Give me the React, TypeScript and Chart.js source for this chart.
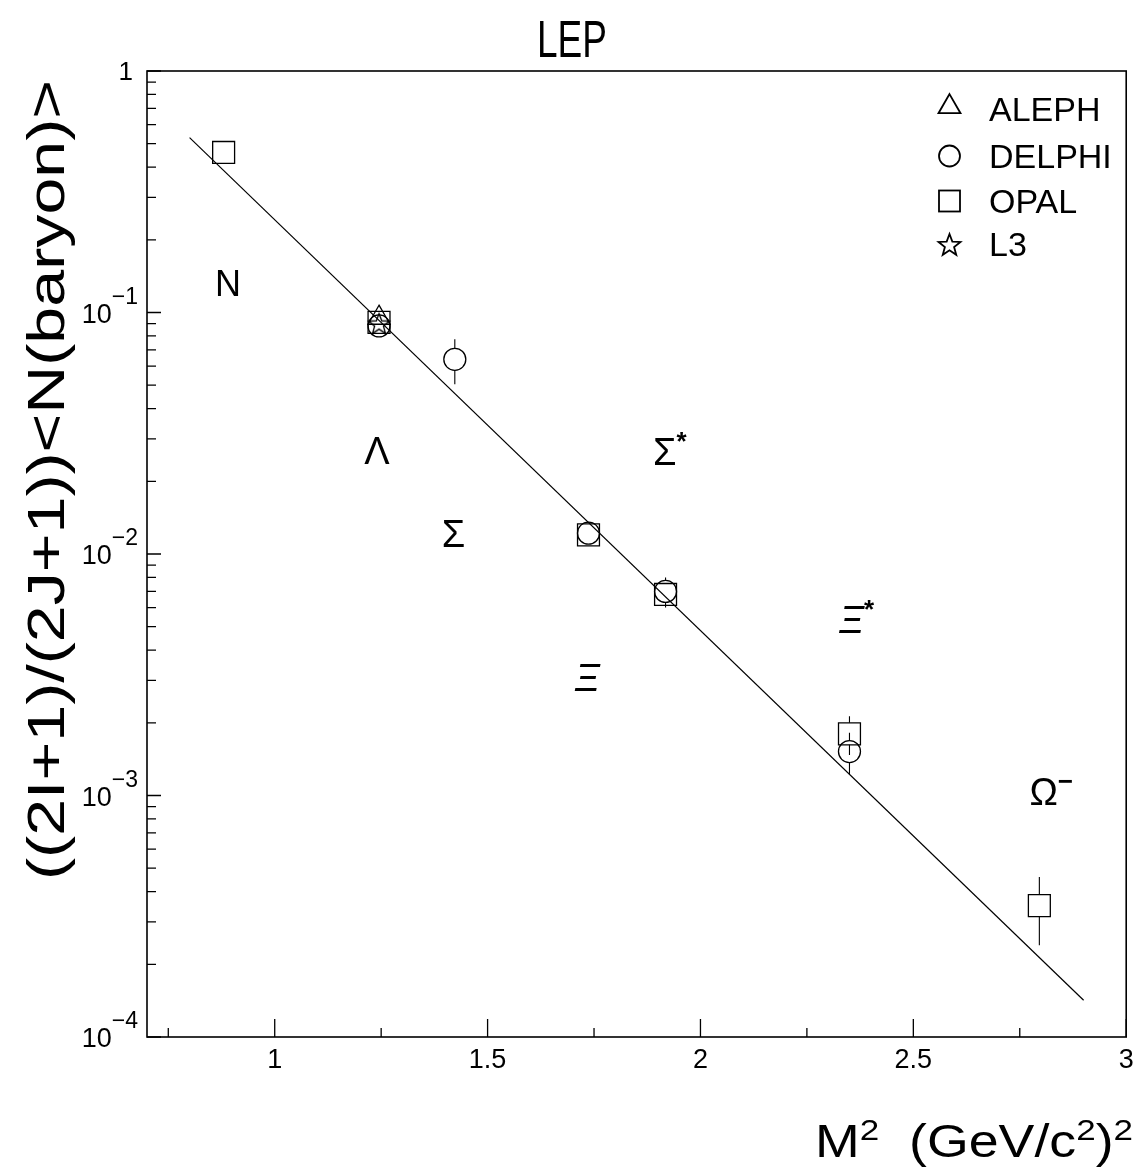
import React, { useEffect, useRef } from 'react';
import { Chart, registerables } from 'chart.js';
Chart.register(...registerables);

const FONT = '"Liberation Sans", "DejaVu Sans", Arial, sans-serif';

// ---- data ----
const alephX = [1.245];
const alephY = [0.095];
const delphiX = [1.245, 1.423, 1.737, 1.918, 2.35];
const delphiY = [0.088, 0.064, 0.0122, 0.007, 0.00152];
const delphiErr = [0, 0.0135, 0.0008, 0.001, 0.0003];
const opalX = [0.88, 1.245, 1.737, 1.918, 2.35, 2.796];
const opalY = [0.46, 0.091, 0.012, 0.0068, 0.0018, 0.00035];
const opalErr = [0.02, 0, 0, 0.0005, 0.00033, 0.00011];
const l3X = [1.245];
const l3Y = [0.09];
const fitX = [0.8, 2.9];
const fitY = [0.53, 1.42e-4];

const hadronNames = ['N', 'Λ', 'Σ', 'Σ', 'Ξ', 'Ξ', 'Ω'];
const hadronSup = ['', '', '', '*', '', '*', '−'];
const hadronItalic = [false, false, false, false, true, true, false];
const hadronX = [0.89, 1.24, 1.42, 1.916, 1.734, 2.355, 2.806];
const hadronY = [0.132, 0.027, 0.0122, 0.0265, 0.0031, 0.00535, 0.00104];

const xMajorTicks = [1, 1.5, 2, 2.5, 3];
const xTickLabels = ['1', '1.5', '2', '2.5', '3'];
const xMinorTicks = [0.75, 1.25, 1.75, 2.25, 2.75];
const yDecades = [-4, -3, -2, -1, 0];
const yTickExp = ['−4', '−3', '−2', '−1', ''];
const legendLabels = ['ALEPH', 'DELPHI', 'OPAL', 'L3'];

const pts = (xs: number[], ys: number[]) => xs.map((x, i) => ({ x, y: ys[i] }));

function makeStar(r: number, lw: number) {
  const c = document.createElement('canvas');
  const s = Math.ceil(2 * r + 4);
  c.width = s;
  c.height = s;
  const g = c.getContext('2d')!;
  g.strokeStyle = '#000';
  g.lineWidth = lw;
  g.beginPath();
  for (let i = 0; i < 10; i++) {
    const a = -Math.PI / 2 + (i * Math.PI) / 5;
    const rr = i % 2 === 0 ? r : r * 0.42;
    g.lineTo(s / 2 + rr * Math.cos(a), s / 2 + 1 + rr * Math.sin(a));
  }
  g.closePath();
  g.stroke();
  return c;
}

type Seg = { t: string; sup?: boolean };

function richWidth(ctx: CanvasRenderingContext2D, segs: Seg[], base: string, sup: string) {
  let w = 0;
  for (const s of segs) {
    ctx.font = s.sup ? sup : base;
    w += ctx.measureText(s.t).width;
  }
  return w;
}

function drawRich(
  ctx: CanvasRenderingContext2D,
  segs: Seg[],
  x: number,
  y: number,
  base: string,
  sup: string,
  rise: number,
  align: 'left' | 'right' | 'center',
  targetW?: number
) {
  const w = richWidth(ctx, segs, base, sup);
  const sx = targetW ? targetW / w : 1;
  const total = w * sx;
  const x0 = align === 'left' ? x : align === 'right' ? x - total : x - total / 2;
  ctx.save();
  ctx.translate(x0, y);
  ctx.scale(sx, 1);
  ctx.textAlign = 'left';
  ctx.textBaseline = 'alphabetic';
  let cx = 0;
  for (const s of segs) {
    ctx.font = s.sup ? sup : base;
    ctx.fillText(s.t, cx, s.sup ? -rise : 0);
    cx += ctx.measureText(s.t).width;
  }
  ctx.restore();
}

const decorPlugin = {
  id: 'decor',
  beforeDatasetsDraw(chart: any) {
    const ctx: CanvasRenderingContext2D = chart.ctx;
    const xs = chart.scales.x;
    const ys = chart.scales.y;
    ctx.save();
    ctx.strokeStyle = '#000';
    ctx.lineWidth = 1.1;
    const bars = (X: number[], Y: number[], E: number[], half: number) => {
      X.forEach((xv, i) => {
        if (!E[i]) return;
        const px = xs.getPixelForValue(xv);
        const py = ys.getPixelForValue(Y[i]);
        const hi = ys.getPixelForValue(Y[i] + E[i]);
        const lo = ys.getPixelForValue(Y[i] - E[i]);
        ctx.beginPath();
        if (hi < py - half) {
          ctx.moveTo(px, hi);
          ctx.lineTo(px, py - half);
        }
        if (lo > py + half) {
          ctx.moveTo(px, py + half);
          ctx.lineTo(px, lo);
        }
        ctx.stroke();
      });
    };
    bars(delphiX, delphiY, delphiErr, 11);
    bars(opalX, opalY, opalErr, 11);
    ctx.restore();
  },
  afterDraw(chart: any) {
    const ctx: CanvasRenderingContext2D = chart.ctx;
    const xs = chart.scales.x;
    const ys = chart.scales.y;
    const a = chart.chartArea;
    ctx.save();
    ctx.fillStyle = '#000';
    ctx.strokeStyle = '#000';
    // frame
    ctx.lineWidth = 1.6;
    ctx.strokeRect(a.left, a.top, a.right - a.left, a.bottom - a.top);
    // y ticks
    ctx.lineWidth = 1.3;
    ctx.beginPath();
    yDecades.forEach((d) => {
      for (let m = 1; m <= 9; m++) {
        const v = m * Math.pow(10, d);
        if (v > 1.0000001) continue;
        const py = ys.getPixelForValue(v);
        const len = m === 1 ? 14 : 9;
        ctx.moveTo(a.left, py);
        ctx.lineTo(a.left + len, py);
      }
    });
    // x ticks
    xMajorTicks.forEach((v) => {
      const px = xs.getPixelForValue(v);
      ctx.moveTo(px, a.bottom);
      ctx.lineTo(px, a.bottom - 18);
    });
    xMinorTicks.forEach((v) => {
      const px = xs.getPixelForValue(v);
      ctx.moveTo(px, a.bottom);
      ctx.lineTo(px, a.bottom - 9);
    });
    ctx.stroke();

    // x tick labels
    ctx.font = `27px ${FONT}`;
    ctx.textAlign = 'center';
    ctx.textBaseline = 'alphabetic';
    xMajorTicks.forEach((v, i) => {
      ctx.fillText(xTickLabels[i], xs.getPixelForValue(v), a.bottom + 31);
    });
    // y tick labels
    yDecades.forEach((d, i) => {
      const py = ys.getPixelForValue(Math.pow(10, d));
      if (d === 0) {
        drawRich(ctx, [{ t: '1' }], a.left - 14, py + 9, `26px ${FONT}`, `20px ${FONT}`, 0, 'right');
      } else {
        drawRich(
          ctx,
          [{ t: '10' }, { t: yTickExp[i], sup: true }],
          a.left - 9,
          py + 10,
          `27px ${FONT}`,
          `23px ${FONT}`,
          19,
          'right'
        );
      }
    });

    // title
    drawRich(ctx, [{ t: 'LEP' }], 572, 57, `52px ${FONT}`, `30px ${FONT}`, 0, 'center', 70);

    // x title
    drawRich(
      ctx,
      [{ t: 'M' }, { t: '2', sup: true }, { t: '  (GeV/c' }, { t: '2', sup: true }, { t: ')' }, { t: '2', sup: true }],
      1133,
      1157,
      `46px ${FONT}`,
      `30px ${FONT}`,
      17,
      'right',
      318
    );

    // y title
    ctx.save();
    ctx.translate(64, 480);
    ctx.rotate(-Math.PI / 2);
    drawRich(ctx, [{ t: '((2I+1)/(2J+1))<N(baryon)>' }], 0, 0, `52px ${FONT}`, `28px ${FONT}`, 0, 'center', 800);
    ctx.restore();

    // hadron labels
    hadronNames.forEach((n, i) => {
      const px = xs.getPixelForValue(hadronX[i]);
      const py = ys.getPixelForValue(hadronY[i]);
      const size = n === 'N' ? 36 : 38;
      const style = hadronItalic[i] ? 'italic ' : '';
      const segs: Seg[] = [{ t: n }];
      ctx.font = `${style}${size}px ${FONT}`;
      const bw = ctx.measureText(n).width;
      if (hadronSup[i]) segs.push({ t: hadronSup[i], sup: true });
      drawRich(
        ctx,
        segs,
        px - bw / 2,
        py + size * 0.36,
        `${style}${size}px ${FONT}`,
        `bold 26px ${FONT}`,
        size * 0.4,
        'left'
      );
    });

    // legend
    const lx = 949.5;
    const rows = [109, 156, 201, 244];
    ctx.lineWidth = 1.8;
    {
      const r = 12.7;
      const cy = rows[0] - r / 4 + 1;
      ctx.beginPath();
      ctx.moveTo(lx, cy - r);
      ctx.lineTo(lx + r * Math.sin((2 * Math.PI) / 3), cy - r * Math.cos((2 * Math.PI) / 3));
      ctx.lineTo(lx + r * Math.sin((4 * Math.PI) / 3), cy - r * Math.cos((4 * Math.PI) / 3));
      ctx.closePath();
      ctx.stroke();
    }
    ctx.beginPath();
    ctx.arc(lx, rows[1], 10.5, 0, Math.PI * 2);
    ctx.stroke();
    ctx.strokeRect(lx - 10.5, rows[2] - 10.5, 21, 21);
    {
      const r = 11.5;
      ctx.beginPath();
      for (let i = 0; i < 10; i++) {
        const ang = -Math.PI / 2 + (i * Math.PI) / 5;
        const rr = i % 2 === 0 ? r : r * 0.42;
        ctx.lineTo(lx + rr * Math.cos(ang), rows[3] + 1.5 + rr * Math.sin(ang));
      }
      ctx.closePath();
      ctx.stroke();
    }
    ctx.font = `34px ${FONT}`;
    ctx.textAlign = 'left';
    ctx.textBaseline = 'alphabetic';
    legendLabels.forEach((t, i) => {
      ctx.fillText(t, 989, rows[i] + 12);
    });
    ctx.restore();
  },
};

export default function App() {
  const ref = useRef<HTMLCanvasElement | null>(null);
  useEffect(() => {
    document.body.style.margin = '0';
    const canvas = ref.current!;
    const star = makeStar(11, 1.3);
    const common = { borderColor: '#000', backgroundColor: 'rgba(0,0,0,0)', borderWidth: 1.3 };
    const chart = new Chart(canvas, {
      type: 'scatter',
      data: {
        datasets: [
          {
            label: 'fit',
            data: pts(fitX, fitY),
            showLine: true,
            borderColor: '#000',
            borderWidth: 1.2,
            pointRadius: 0,
            order: 5,
          } as any,
          { label: 'ALEPH', data: pts(alephX, alephY), pointStyle: 'triangle', pointRadius: 12.7, ...common },
          { label: 'DELPHI', data: pts(delphiX, delphiY), pointStyle: 'circle', pointRadius: 11, ...common },
          { label: 'OPAL', data: pts(opalX, opalY), pointStyle: 'rect', pointRadius: 15.5, ...common },
          { label: 'L3', data: pts(l3X, l3Y), pointStyle: star as any, pointRadius: 11, ...common },
        ],
      },
      options: {
        responsive: false,
        devicePixelRatio: 1,
        animation: false,
        layout: { padding: { left: 147, top: 71, right: 12, bottom: 130 } },
        plugins: { legend: { display: false }, tooltip: { enabled: false } },
        events: [],
        scales: {
          x: { type: 'linear', min: 0.7, max: 3, display: false },
          y: { type: 'logarithmic', min: 1e-4, max: 1, display: false },
        },
      },
      plugins: [decorPlugin],
    });
    return () => chart.destroy();
  }, []);
  return (
    <div style={{ position: 'absolute', left: 0, top: 0, width: 1143, height: 1167, background: '#fff' }}>
      <canvas ref={ref} width={1143} height={1167} style={{ width: 1143, height: 1167, display: 'block' }} />
    </div>
  );
}
